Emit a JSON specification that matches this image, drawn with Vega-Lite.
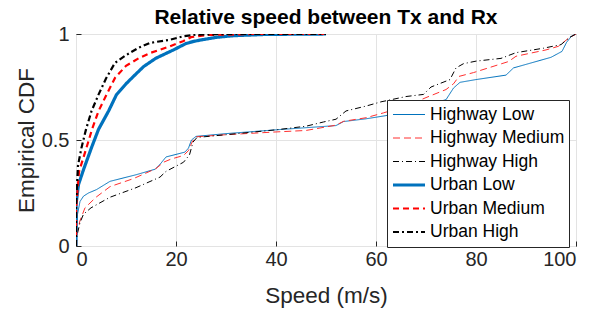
{
  "$schema": "https://vega.github.io/schema/vega-lite/v6.json",
  "width": 500,
  "height": 212,
  "autosize": "none",
  "padding": {"left": 76, "top": 34, "right": 27, "bottom": 64},
  "title": {"text": "Relative speed between Tx and Rx", "fontSize": 21, "fontWeight": "bold", "font": "Liberation Sans", "color": "#000000", "offset": -4, "anchor": "middle"},
  "config": {
    "font": "Liberation Sans",
    "view": {"stroke": "#262626", "strokeWidth": 1},
    "axis": {"domain": false, "gridColor": "#e3e3e3", "gridWidth": 1, "tickColor": "#262626", "tickSize": -5, "labelColor": "#262626", "labelFontSize": 20, "titleColor": "#262626", "titleFontSize": 22.5, "titleFontWeight": "normal", "labelFont": "Liberation Sans", "titleFont": "Liberation Sans"}
  },
  "data": {"values": [
    {"s":"Highway Low","x":0,"y":0},{"s":"Highway Low","x":0.3,"y":0.15},{"s":"Highway Low","x":0.8,"y":0.21},{"s":"Highway Low","x":1.5,"y":0.235},{"s":"Highway Low","x":2.5,"y":0.25},{"s":"Highway Low","x":4.1,"y":0.266},{"s":"Highway Low","x":6.8,"y":0.305},{"s":"Highway Low","x":12,"y":0.336},{"s":"Highway Low","x":15.8,"y":0.362},{"s":"Highway Low","x":16.8,"y":0.385},{"s":"Highway Low","x":18,"y":0.42},{"s":"Highway Low","x":20,"y":0.432},{"s":"Highway Low","x":21.8,"y":0.443},{"s":"Highway Low","x":22.5,"y":0.462},{"s":"Highway Low","x":23.1,"y":0.5},{"s":"Highway Low","x":24,"y":0.517},{"s":"Highway Low","x":30,"y":0.53},{"s":"Highway Low","x":40,"y":0.548},{"s":"Highway Low","x":46,"y":0.558},{"s":"Highway Low","x":52,"y":0.568},{"s":"Highway Low","x":53.5,"y":0.587},{"s":"Highway Low","x":58,"y":0.6},{"s":"Highway Low","x":62,"y":0.615},{"s":"Highway Low","x":66,"y":0.64},{"s":"Highway Low","x":70,"y":0.665},{"s":"Highway Low","x":74,"y":0.69},{"s":"Highway Low","x":75.5,"y":0.745},{"s":"Highway Low","x":76.8,"y":0.772},{"s":"Highway Low","x":80,"y":0.785},{"s":"Highway Low","x":86,"y":0.806},{"s":"Highway Low","x":87.5,"y":0.84},{"s":"Highway Low","x":92,"y":0.87},{"s":"Highway Low","x":95,"y":0.89},{"s":"Highway Low","x":97.2,"y":0.918},{"s":"Highway Low","x":98.1,"y":0.96},{"s":"Highway Low","x":99.1,"y":0.99},{"s":"Highway Low","x":100,"y":1},
    {"s":"Highway Medium","x":0,"y":0},{"s":"Highway Medium","x":0.3,"y":0.07},{"s":"Highway Medium","x":0.8,"y":0.12},{"s":"Highway Medium","x":1.8,"y":0.18},{"s":"Highway Medium","x":4,"y":0.23},{"s":"Highway Medium","x":6.8,"y":0.28},{"s":"Highway Medium","x":11.5,"y":0.318},{"s":"Highway Medium","x":16,"y":0.365},{"s":"Highway Medium","x":17.5,"y":0.395},{"s":"Highway Medium","x":19,"y":0.41},{"s":"Highway Medium","x":21.5,"y":0.427},{"s":"Highway Medium","x":22.5,"y":0.45},{"s":"Highway Medium","x":23.2,"y":0.49},{"s":"Highway Medium","x":24,"y":0.515},{"s":"Highway Medium","x":30,"y":0.525},{"s":"Highway Medium","x":40,"y":0.538},{"s":"Highway Medium","x":46,"y":0.545},{"s":"Highway Medium","x":52,"y":0.57},{"s":"Highway Medium","x":53.5,"y":0.588},{"s":"Highway Medium","x":58,"y":0.605},{"s":"Highway Medium","x":61.5,"y":0.628},{"s":"Highway Medium","x":63.5,"y":0.642},{"s":"Highway Medium","x":68,"y":0.68},{"s":"Highway Medium","x":70,"y":0.7},{"s":"Highway Medium","x":74,"y":0.738},{"s":"Highway Medium","x":75.5,"y":0.765},{"s":"Highway Medium","x":76.6,"y":0.8},{"s":"Highway Medium","x":79.5,"y":0.818},{"s":"Highway Medium","x":86.5,"y":0.87},{"s":"Highway Medium","x":88,"y":0.895},{"s":"Highway Medium","x":94,"y":0.925},{"s":"Highway Medium","x":96.5,"y":0.942},{"s":"Highway Medium","x":98.5,"y":0.98},{"s":"Highway Medium","x":100,"y":1},
    {"s":"Highway High","x":0,"y":0},{"s":"Highway High","x":0.3,"y":0.06},{"s":"Highway High","x":0.8,"y":0.11},{"s":"Highway High","x":1.5,"y":0.15},{"s":"Highway High","x":3,"y":0.18},{"s":"Highway High","x":6.8,"y":0.23},{"s":"Highway High","x":12,"y":0.275},{"s":"Highway High","x":16.8,"y":0.325},{"s":"Highway High","x":18,"y":0.352},{"s":"Highway High","x":21.5,"y":0.395},{"s":"Highway High","x":22.7,"y":0.43},{"s":"Highway High","x":23.4,"y":0.49},{"s":"Highway High","x":24.2,"y":0.512},{"s":"Highway High","x":30,"y":0.525},{"s":"Highway High","x":40,"y":0.548},{"s":"Highway High","x":46,"y":0.565},{"s":"Highway High","x":49.5,"y":0.585},{"s":"Highway High","x":52,"y":0.598},{"s":"Highway High","x":54,"y":0.637},{"s":"Highway High","x":58,"y":0.66},{"s":"Highway High","x":61,"y":0.68},{"s":"Highway High","x":66,"y":0.705},{"s":"Highway High","x":69.5,"y":0.715},{"s":"Highway High","x":71,"y":0.75},{"s":"Highway High","x":74.8,"y":0.785},{"s":"Highway High","x":76,"y":0.84},{"s":"Highway High","x":77.5,"y":0.86},{"s":"Highway High","x":80,"y":0.872},{"s":"Highway High","x":85,"y":0.885},{"s":"Highway High","x":88,"y":0.912},{"s":"Highway High","x":93.5,"y":0.933},{"s":"Highway High","x":97,"y":0.95},{"s":"Highway High","x":98.8,"y":0.985},{"s":"Highway High","x":100,"y":1},
    {"s":"Urban Low","x":0,"y":0},{"s":"Urban Low","x":0.02,"y":0.2},{"s":"Urban Low","x":0.5,"y":0.29},{"s":"Urban Low","x":1.5,"y":0.36},{"s":"Urban Low","x":3.1,"y":0.464},{"s":"Urban Low","x":4.5,"y":0.55},{"s":"Urban Low","x":6.5,"y":0.636},{"s":"Urban Low","x":8.1,"y":0.714},{"s":"Urban Low","x":10,"y":0.765},{"s":"Urban Low","x":11.5,"y":0.8},{"s":"Urban Low","x":13.5,"y":0.846},{"s":"Urban Low","x":16,"y":0.886},{"s":"Urban Low","x":19.5,"y":0.925},{"s":"Urban Low","x":22,"y":0.955},{"s":"Urban Low","x":23.5,"y":0.965},{"s":"Urban Low","x":25,"y":0.972},{"s":"Urban Low","x":28,"y":0.984},{"s":"Urban Low","x":31.5,"y":0.992},{"s":"Urban Low","x":38,"y":0.998},{"s":"Urban Low","x":50,"y":1},
    {"s":"Urban Medium","x":0,"y":0},{"s":"Urban Medium","x":0.02,"y":0.18},{"s":"Urban Medium","x":0.6,"y":0.35},{"s":"Urban Medium","x":2.1,"y":0.464},{"s":"Urban Medium","x":3.2,"y":0.55},{"s":"Urban Medium","x":4.5,"y":0.636},{"s":"Urban Medium","x":6.1,"y":0.714},{"s":"Urban Medium","x":7.8,"y":0.793},{"s":"Urban Medium","x":10,"y":0.85},{"s":"Urban Medium","x":12.5,"y":0.885},{"s":"Urban Medium","x":14.8,"y":0.91},{"s":"Urban Medium","x":18.8,"y":0.942},{"s":"Urban Medium","x":21.4,"y":0.966},{"s":"Urban Medium","x":23,"y":0.985},{"s":"Urban Medium","x":26,"y":0.995},{"s":"Urban Medium","x":35,"y":1},{"s":"Urban Medium","x":50,"y":1},
    {"s":"Urban High","x":0,"y":0},{"s":"Urban High","x":0.02,"y":0.2},{"s":"Urban High","x":0.4,"y":0.38},{"s":"Urban High","x":1.1,"y":0.464},{"s":"Urban High","x":2,"y":0.55},{"s":"Urban High","x":3.1,"y":0.636},{"s":"Urban High","x":4.5,"y":0.714},{"s":"Urban High","x":6,"y":0.79},{"s":"Urban High","x":7.8,"y":0.864},{"s":"Urban High","x":10,"y":0.9},{"s":"Urban High","x":12.5,"y":0.935},{"s":"Urban High","x":14.8,"y":0.958},{"s":"Urban High","x":18.8,"y":0.973},{"s":"Urban High","x":21.4,"y":0.989},{"s":"Urban High","x":24,"y":0.997},{"s":"Urban High","x":30,"y":1},{"s":"Urban High","x":50,"y":1}
  ]},
  "mark": {"type": "line", "clip": true},
  "encoding": {
    "x": {"field": "x", "type": "quantitative", "scale": {"domain": [0, 100], "nice": false, "zero": false}, "axis": {"title": "Speed (m/s)", "values": [0, 20, 40, 60, 80, 100], "labelPadding": 8, "titlePadding": 15}},
    "y": {"field": "y", "type": "quantitative", "scale": {"domain": [0, 1], "nice": false}, "axis": {"title": "Empirical CDF", "values": [0, 0.5, 1], "format": "~g", "labelPadding": 12, "titlePadding": 3}},
    "color": {"field": "s", "type": "nominal", "title": null,
      "scale": {"domain": ["Highway Low", "Highway Medium", "Highway High", "Urban Low", "Urban Medium", "Urban High"], "range": ["#0072BD", "#FF3030", "#000000", "#0072BD", "#FF0000", "#000000"]},
      "legend": {"orient": "none", "legendX": 311, "legendY": 66, "padding": 4, "strokeColor": "#262626", "fillColor": "#ffffff", "symbolType": "stroke", "symbolSize": 1024, "symbolOffset": 0, "labelOffset": 3, "clipHeight": 21, "rowPadding": 2.5, "labelFontSize": 17.5, "labelColor": "#000000", "labelFont": "Liberation Sans", "labelLimit": 300}},
    "strokeDash": {"field": "s", "type": "nominal", "title": null,
      "scale": {"domain": ["Highway Low", "Highway Medium", "Highway High", "Urban Low", "Urban Medium", "Urban High"], "range": [[1, 0], [7, 4], [6, 3, 1, 3], [1, 0], [6, 4], [6, 3, 2, 3]]}},
    "strokeWidth": {"field": "s", "type": "ordinal", "title": null,
      "scale": {"type": "ordinal", "domain": ["Highway Low", "Highway Medium", "Highway High", "Urban Low", "Urban Medium", "Urban High"], "range": [1, 1, 1, 3.2, 2.2, 2.2]}}
  }
}
